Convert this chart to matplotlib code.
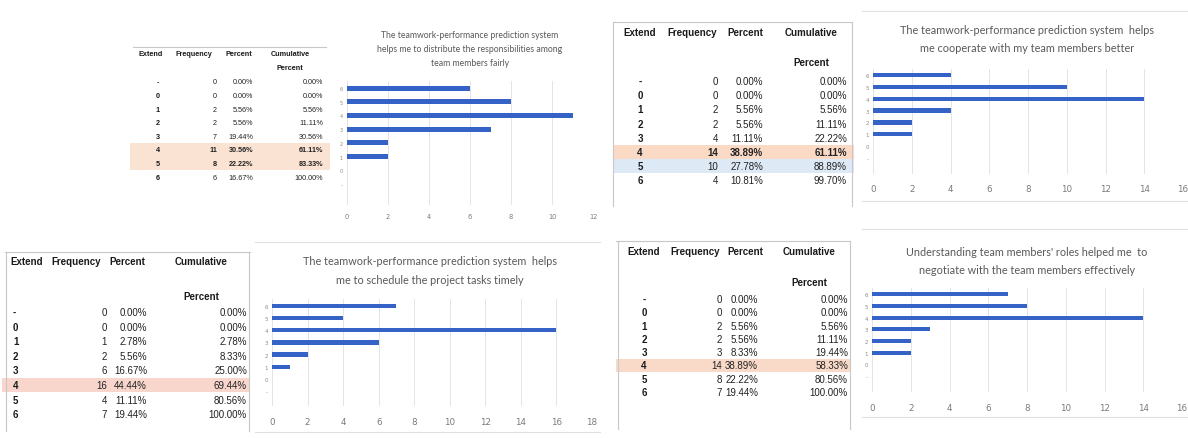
import matplotlib
matplotlib.use("Agg")
import matplotlib.pyplot as plt
from matplotlib.patches import Rectangle
from matplotlib.lines import Line2D

# ---------------- data ----------------
extend = ['-', '0', '1', '2', '3', '4', '5', '6']
headers = ['Extend', 'Frequency', 'Percent', 'Cumulative']

freq_a = [0, 0, 2, 2, 7, 11, 8, 6]
pct_a = [0.00, 0.00, 5.56, 5.56, 19.44, 30.56, 22.22, 16.67]
cum_a = [0.00, 0.00, 5.56, 11.11, 30.56, 61.11, 83.33, 100.00]
title_a = ["The teamwork-performance prediction system",
           "helps me to distribute the responsibilities among",
           "team members fairly"]

freq_b = [0, 0, 2, 2, 4, 14, 10, 4]
pct_b = [0.00, 0.00, 5.56, 5.56, 11.11, 38.89, 27.78, 10.81]
cum_b = [0.00, 0.00, 5.56, 11.11, 22.22, 61.11, 88.89, 99.70]
title_b = ["The teamwork-performance prediction system  helps",
           "me cooperate with my team members better"]

freq_c = [0, 0, 1, 2, 6, 16, 4, 7]
pct_c = [0.00, 0.00, 2.78, 5.56, 16.67, 44.44, 11.11, 19.44]
cum_c = [0.00, 0.00, 2.78, 8.33, 25.00, 69.44, 80.56, 100.00]
title_c = ["The teamwork-performance prediction system  helps",
           "me to schedule the project tasks timely"]

freq_d = [0, 0, 2, 2, 3, 14, 8, 7]
pct_d = [0.00, 0.00, 5.56, 5.56, 8.33, 38.89, 22.22, 19.44]
cum_d = [0.00, 0.00, 5.56, 11.11, 19.44, 58.33, 80.56, 100.00]
title_d = ["Understanding team members' roles helped me  to",
           "negotiate with the team members effectively"]

# ---------------- figure ----------------
W, H = 1188, 439
fig = plt.figure(figsize=(W / 100, H / 100), dpi=100)
fig.patch.set_facecolor('white')

def fx(x):
    return x / W

def fy(y):
    return 1 - y / H

TFONT = 'Liberation Sans'
CFONT = 'Lato'
BAR = '#3462c6'

def hline(x0, x1, y, color='#c8c8c8', lw=0.8):
    fig.add_artist(Line2D([fx(x0), fx(x1)], [fy(y), fy(y)], transform=fig.transFigure,
                          color=color, lw=lw, zorder=1))

def vline(x, y0, y1, color='#c8c8c8', lw=0.8):
    fig.add_artist(Line2D([fx(x), fx(x)], [fy(y0), fy(y1)], transform=fig.transFigure,
                          color=color, lw=lw, zorder=1))

def band(x0, x1, yc, h, color):
    fig.add_artist(Rectangle((fx(x0), fy(yc + h / 2)), (x1 - x0) / W, h / H,
                             transform=fig.transFigure, facecolor=color, edgecolor='none', zorder=0))

def table(freq, pct, cum, hx, hy, py, ex, ex_ha, fr, pr, cr, y0, dy, fs, bold_rows=()):
    # headers
    for h, x in zip(headers, hx):
        fig.text(fx(x), fy(hy), h, ha='center', va='center', fontsize=fs,
                 fontweight='bold', family=TFONT, color='#1a1a1a')
    fig.text(fx(hx[3]), fy(py), 'Percent', ha='center', va='center', fontsize=fs,
             fontweight='bold', family=TFONT, color='#1a1a1a')
    for i in range(len(extend)):
        y = fy(y0 + i * dy)
        w = 'bold' if i in bold_rows else 'normal'
        fig.text(fx(ex), y, extend[i], ha=ex_ha, va='center', fontsize=fs,
                 fontweight='bold', family=TFONT, color='#1a1a1a')
        fig.text(fx(fr), y, str(freq[i]), ha='right', va='center', fontsize=fs,
                 fontweight=w, family=TFONT, color='#222222')
        fig.text(fx(pr), y, f"{pct[i]:.2f}%", ha='right', va='center', fontsize=fs,
                 fontweight=w, family=TFONT, color='#222222')
        fig.text(fx(cr), y, f"{cum[i]:.2f}%", ha='right', va='center', fontsize=fs,
                 fontweight=w, family=TFONT, color='#222222')

def chart(freq, title, tx, ty, tdy, tfs, left, right, xmax, y_first, spacing,
          ylo, yhi, tick_fs, ytick_fs, label_y):
    bottom = y_first - ylo * spacing
    top = y_first - yhi * spacing
    ax = fig.add_axes([fx(left), fy(bottom), (right - left) / W, (bottom - top) / H])
    ax.set_facecolor('none')
    idx = list(range(len(extend)))
    ax.barh(idx, freq, height=0.36, color=BAR, zorder=3)
    ax.set_xlim(0, xmax)
    ax.set_ylim(ylo, yhi)
    ax.set_xticks(range(0, xmax + 1, 2))
    ax.set_yticks(idx)
    ax.set_yticklabels(extend)
    for s in ax.spines.values():
        s.set_visible(False)
    ax.grid(axis='x', color='#e4e4e4', lw=0.7, zorder=0)
    ax.set_axisbelow(True)
    pad_pt = (label_y - bottom - tick_fs * 0.7) * 0.72
    ax.tick_params(axis='x', length=0, labelsize=tick_fs, labelcolor='#7a7a7a', pad=pad_pt)
    ax.tick_params(axis='y', length=0, labelsize=ytick_fs, labelcolor='#8a8a8a', pad=3)
    for k, line in enumerate(title):
        fig.text(fx(tx), fy(ty + k * tdy), line, ha='center', va='center', fontsize=tfs,
                 family=CFONT, color='#595959')
    return ax

# ---------------- panel A (top-left) ----------------
band(130, 330, 83 + 5 * 13.6, 13.6, '#fbe3d3')
band(130, 330, 83 + 6 * 13.6, 13.6, '#fbe3d3')
hline(133, 326, 48)
table(freq_a, pct_a, cum_a, [151, 194, 239, 290], 55, 68, 158, 'center', 217, 253, 323,
      83, 13.6, 5.2, bold_rows=(5, 6))
chart(freq_a, title_a, 470, 35, 14, 6.2, 347, 593, 12, 185, 13.7, -1.5, 7.5, 4.8, 3.6, 217)

# ---------------- panel B (top-right) ----------------
band(614, 854, 82 + 5 * 14.2, 14.2, '#fad9c5')
band(614, 854, 82 + 6 * 14.2, 14.2, '#dde9f5')
hline(613, 852, 23)
vline(613, 23, 207)
vline(852, 23, 207)
table(freq_b, pct_b, cum_b, [640, 692, 745, 811], 33, 63, 640, 'center', 718, 763, 847,
      82, 14.2, 7.0, bold_rows=(5,))
hline(862, 1188, 12, color='#e0e0e0')
hline(862, 1188, 202, color='#e0e0e0')
chart(freq_b, title_b, 1027, 30, 18, 7.8, 873, 1183, 16, 159, 11.86, -1.35, 7.5, 6.3, 4.0, 189)

# ---------------- panel C (bottom-left) ----------------
band(2, 250, 313 + 5 * 14.6, 14.6, '#f8d6cc')
hline(5, 250, 253)
vline(6, 253, 432)
vline(249, 253, 432)
table(freq_c, pct_c, cum_c, [27, 76, 127, 201], 262, 297, 13, 'left', 107, 147, 247,
      313, 14.6, 7.0)
hline(255, 600, 243, color='#e0e0e0')
hline(255, 600, 433, color='#e0e0e0')
chart(freq_c, title_c, 430, 262, 18, 7.8, 272, 592, 18, 392, 12.14, -1.25, 7.55, 6.3, 4.0, 422)

# ---------------- panel D (bottom-right) ----------------
band(616, 850, 300 + 5 * 13.3, 13.3, '#f9dac8')
hline(616, 850, 242)
vline(618, 242, 430)
vline(850, 242, 430)
table(freq_d, pct_d, cum_d, [644, 695, 745, 809], 252, 283, 644, 'center', 722, 758, 848,
      300, 13.3, 7.0)
hline(862, 1188, 230, color='#e0e0e0')
hline(862, 1188, 418, color='#e0e0e0')
chart(freq_d, title_d, 1027, 252, 18, 7.8, 872, 1182, 16, 377, 11.67, -1.35, 7.5, 6.3, 4.0, 408)

fig.savefig('out.png', dpi=100, facecolor='white')
